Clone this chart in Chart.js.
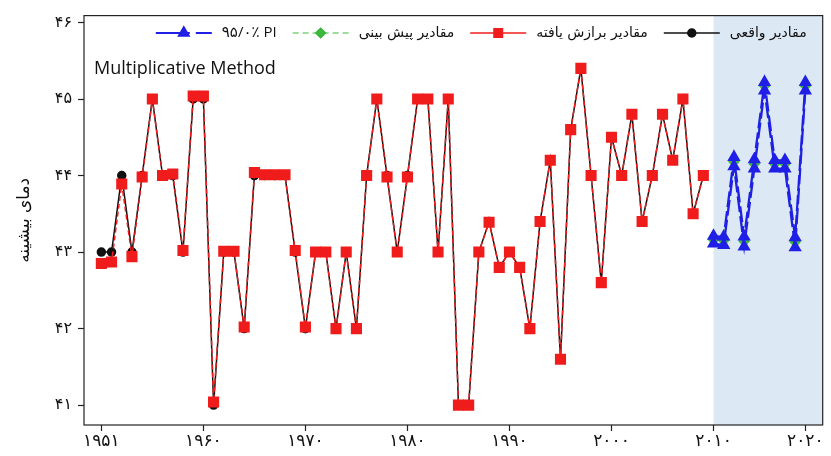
<!DOCTYPE html>
<html>
<head>
<meta charset="utf-8">
<script src="https://cdn.jsdelivr.net/npm/chart.js@4.4.1/dist/chart.umd.min.js"></script>
<style>
  body { margin: 0; background: #fff; }
  #wrap { width: 831px; height: 456px; }
</style>
</head>
<body>
<div id="wrap"><canvas id="myChart" width="831" height="456"></canvas></div>
<script>
// observed values 1951-2010 (index 0..59)
const actual = [
  43, 43, 44, 43, 44, 45, 44, 44, 43, 45,
  45, 41, 43, 43, 42, 44, 44, 44, 44, 43,
  42, 43, 43, 42, 43, 42, 44, 45, 44, 43,
  44, 45, 45, 43, 45, 41, 41, 43, 43.4, 42.8,
  43, 42.8, 42, 43.4, 44.2, 41.6, 44.6, 45.4, 44, 42.6,
  44.5, 44, 44.8, 43.4, 44, 44.8, 44.2, 45, 43.5, 44
];
const fitted = [
  42.85, 42.87, 43.89, 42.94, 43.98, 45, 44, 44.02, 43.02, 45.04,
  45.04, 41.04, 43.01, 43.01, 42.02, 44.04, 44.01, 44.01, 44.01, 43.02,
  42.02, 43, 43, 42, 43, 42, 44, 45, 43.98, 43,
  43.98, 45, 45, 43, 45, 41, 41, 43, 43.39, 42.8,
  43, 42.8, 42, 43.4, 44.2, 41.6, 44.6, 45.4, 44, 42.6,
  44.5, 44, 44.8, 43.4, 44, 44.8, 44.2, 45, 43.5, 44
];
// forecasts 2011-2020 (index 60..69)
const forecast = [43.16, 43.15, 44.18, 43.14, 44.15, 45.17, 44.15, 44.15, 43.13, 45.17];
const piUpper  = [43.21, 43.2, 44.24, 43.2, 44.21, 45.22, 44.2, 44.2, 43.19, 45.22];
const piLower  = [43.11, 43.09, 44.12, 43.07, 44.09, 45.11, 44.09, 44.09, 43.06, 45.11];
const forecastStart = 60;

const xTickIdx = [0, 10, 20, 30, 40, 50, 60, 69];
const xTickLabels = ['۱۹۵۱', '۱۹۶۰', '۱۹۷۰', '۱۹۸۰', '۱۹۹۰', '۲۰۰۰', '۲۰۱۰', '۲۰۲۰'];
const yTicks = [41, 42, 43, 44, 45, 46];
const yTickLabels = ['۴۱', '۴۲', '۴۳', '۴۴', '۴۵', '۴۶'];

const toPts = (arr, start) => arr.map((v, i) => ({ x: start + i, y: v }));

const PERSIAN_FONT = '"DejaVu Sans", sans-serif';

// legend symbol dash per entry (red and black drawn solid like the original)
const legendItems = [
  { label: 'مقادیر واقعی', ds: 0, rtl: true, dash: [] },
  { label: 'مقادیر برازش یافته', ds: 1, rtl: true, dash: [] },
  { label: 'مقادیر پیش بینی', ds: 2, rtl: true, dash: [6, 4] },
  { label: '۹۵/۰٪ PI', ds: 3, rtl: false, dash: [34, 6] }
];

const decorations = {
  id: 'decorations',
  beforeDatasetsDraw(chart) {
    const { ctx, chartArea, scales } = chart;
    const x0 = scales.x.getPixelForValue(forecastStart);
    ctx.save();
    ctx.fillStyle = '#dde8f5';
    ctx.fillRect(x0, chartArea.top, chartArea.right - x0, chartArea.bottom - chartArea.top);
    ctx.restore();
  },
  afterDraw(chart) {
    const { ctx, chartArea } = chart;
    ctx.save();
    // frame
    ctx.strokeStyle = '#222';
    ctx.lineWidth = 1.2;
    ctx.strokeRect(chartArea.left, chartArea.top, chartArea.right - chartArea.left, chartArea.bottom - chartArea.top);

    // method label
    ctx.fillStyle = '#111';
    ctx.font = '18px "Open Sans", sans-serif';
    ctx.textAlign = 'left';
    ctx.textBaseline = 'middle';
    ctx.direction = 'ltr';
    ctx.fillText('Multiplicative Method', chartArea.left + 10, 69);

    // legend, laid out from the right
    let cursor = chartArea.right - 16;
    const ly = 33;
    legendItems.forEach(item => {
      const ds = chart.data.datasets[item.ds];
      ctx.direction = item.rtl ? 'rtl' : 'ltr';
      ctx.textAlign = 'right';
      ctx.fillStyle = '#111';
      ctx.font = item.rtl ? '14px ' + PERSIAN_FONT : '15px "Open Sans", ' + PERSIAN_FONT;
      ctx.fillText(item.label, cursor, ly);
      const w = ctx.measureText(item.label).width;
      cursor -= w + 10;
      const symW = 56;
      ctx.strokeStyle = ds.borderColor;
      ctx.lineWidth = ds.borderWidth;
      ctx.setLineDash(item.dash);
      ctx.beginPath();
      ctx.moveTo(cursor - symW, ly);
      ctx.lineTo(cursor, ly);
      ctx.stroke();
      ctx.setLineDash([]);
      Chart.helpers.drawPoint(ctx, {
        pointStyle: ds.pointStyle,
        radius: Math.min(ds.pointRadius, 6),
        rotation: 0,
        borderWidth: 1
      }, cursor - symW / 2, ly);
      ctx.fillStyle = ds.pointBackgroundColor;
      ctx.fill();
      cursor -= symW + 16;
    });
    ctx.restore();
  }
};

const ctx = document.getElementById('myChart').getContext('2d');
const myChart = new Chart(ctx, {
  type: 'line',
  data: {
    datasets: [
      {
        label: 'مقادیر واقعی',
        data: toPts(actual, 0),
        borderColor: '#111',
        backgroundColor: '#111',
        pointBackgroundColor: '#111',
        pointBorderColor: '#111',
        pointStyle: 'circle',
        pointRadius: 4,
        borderWidth: 1.5,
        order: 4
      },
      {
        label: 'مقادیر برازش یافته',
        data: toPts(fitted, 0),
        borderColor: '#f01c1c',
        backgroundColor: '#f01c1c',
        pointBackgroundColor: '#f01c1c',
        pointBorderColor: '#f01c1c',
        pointStyle: 'rect',
        pointRadius: 6.8,
        borderWidth: 1.5,
        borderDash: [5, 3],
        order: 3
      },
      {
        label: 'مقادیر پیش بینی',
        data: toPts(forecast, forecastStart),
        borderColor: '#3cb93c',
        backgroundColor: '#3cb93c',
        pointBackgroundColor: '#3cb93c',
        pointBorderColor: '#3cb93c',
        pointStyle: 'rectRot',
        pointRadius: 5,
        borderWidth: 1.2,
        borderDash: [6, 4],
        order: 2
      },
      {
        label: '۹۵/۰٪ PI',
        data: toPts(piUpper, forecastStart),
        borderColor: '#1f1fe6',
        backgroundColor: '#1f1fe6',
        pointBackgroundColor: '#1f1fe6',
        pointBorderColor: '#1f1fe6',
        pointStyle: 'triangle',
        pointRadius: 5.5,
        borderWidth: 2.2,
        borderDash: [16, 4],
        order: 1
      },
      {
        label: 'lower',
        data: toPts(piLower, forecastStart),
        borderColor: '#1f1fe6',
        backgroundColor: '#1f1fe6',
        pointBackgroundColor: '#1f1fe6',
        pointBorderColor: '#1f1fe6',
        pointStyle: 'triangle',
        pointRadius: 5.5,
        borderWidth: 2.2,
        borderDash: [16, 4],
        order: 0
      }
    ]
  },
  options: {
    responsive: false,
    animation: false,
    layout: { padding: { top: 15, right: 6, left: 0, bottom: 0 } },
    elements: { line: { tension: 0 } },
    plugins: {
      legend: { display: false },
      tooltip: { enabled: false }
    },
    scales: {
      x: {
        type: 'linear',
        min: -1.7,
        max: 70.7,
        afterBuildTicks(axis) { axis.ticks = xTickIdx.map(v => ({ value: v })); },
        afterFit(axis) { axis.height = 31; },
        grid: { drawOnChartArea: false, drawTicks: true, tickLength: 6, color: '#222', tickWidth: 1.2 },
        border: { display: false },
        ticks: {
          autoSkip: false,
          maxRotation: 0,
          padding: 0,
          color: '#111',
          font: { family: 'DejaVu Sans', size: 17 },
          callback: (v) => xTickLabels[xTickIdx.indexOf(v)]
        }
      },
      y: {
        min: 40.74,
        max: 46.09,
        afterBuildTicks(axis) { axis.ticks = yTicks.map(v => ({ value: v })); },
        afterFit(axis) { axis.width = 84; },
        grid: { drawOnChartArea: false, drawTicks: true, tickLength: 6, color: '#222', tickWidth: 1.2 },
        border: { display: false },
        title: {
          display: true,
          text: 'دمای بیشینه',
          color: '#111',
          font: { family: 'DejaVu Sans', size: 17 },
          padding: { top: 14, bottom: 0 }
        },
        ticks: {
          padding: 6,
          color: '#111',
          font: { family: 'DejaVu Sans', size: 16 },
          callback: (v) => yTickLabels[yTicks.indexOf(v)]
        }
      }
    }
  },
  plugins: [decorations]
});
</script>
</body>
</html>
